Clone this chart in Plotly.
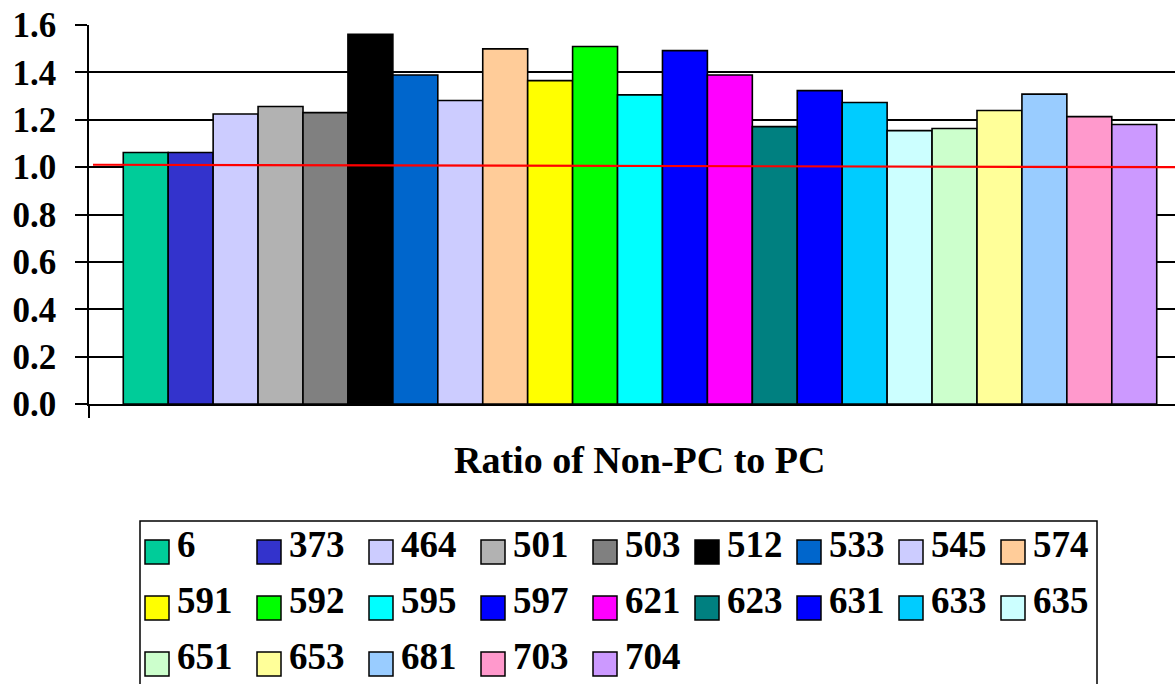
import plotly.graph_objects as go

# ---------------- data ----------------
categories = ["6", "373", "464", "501", "503", "512", "533", "545", "574",
              "591", "592", "595", "597", "621", "623", "631", "633", "635",
              "651", "653", "681", "703", "704"]
ratios = [1.062, 1.062, 1.224, 1.256, 1.230, 1.561, 1.389, 1.281, 1.499,
          1.365, 1.509, 1.305, 1.492, 1.389, 1.171, 1.323, 1.273, 1.154,
          1.163, 1.239, 1.308, 1.213, 1.180]
colors = ["#00CC99", "#3333CC", "#CCCCFF", "#B2B2B2", "#808080", "#000000",
          "#0066CC", "#CCCCFF", "#FFCC99", "#FFFF00", "#00FF00", "#00FFFF",
          "#0000FF", "#FF00FF", "#008080", "#0000FF", "#00CCFF", "#CCFFFF",
          "#CCFFCC", "#FFFF99", "#99CCFF", "#FF99CC", "#CC99FF"]
y_ticks = [0.0, 0.2, 0.4, 0.6, 0.8, 1.0, 1.2, 1.4, 1.6]
x_title = "Ratio of Non-PC to PC"
ref_line = [1.01, 1.00]   # red reference line (left, right)

# ---------------- layout geometry ----------------
W, H = 1175, 684
ML, MT, MB, MR = 89, 25, 280, 0
PW = W - ML - MR
PH = H - MT - MB
UNIT = 1102  # pixels per category width (plot extends beyond the window)


def px_x(px):
    return (px - ML) / PW


def px_y(py):
    return (H - MB - py) / PH


fig = go.Figure()
for name, v, c in zip(categories, ratios, colors):
    fig.add_trace(go.Bar(
        x=[0], y=[v], name=name, showlegend=False,
        marker=dict(color=c, line=dict(color="black", width=1.6)),
    ))

shapes = []
annotations = []

# red reference line
shapes.append(dict(type="line", xref="paper", yref="y",
                   x0=px_x(93), x1=1.0, y0=ref_line[0], y1=ref_line[1],
                   line=dict(color="#FF0000", width=2.2), layer="above"))

# legend box
shapes.append(dict(type="rect", xref="paper", yref="paper",
                   x0=px_x(140), x1=px_x(1097), y0=px_y(521), y1=px_y(700),
                   line=dict(color="black", width=1.5), fillcolor="rgba(0,0,0,0)"))

col_x = [145, 257, 369, 481, 593, 695, 797, 899, 1001]
row_y = [540, 596, 652]
SW = 24
for i, (name, c) in enumerate(zip(categories, colors)):
    r, k = divmod(i, 9)
    x0 = col_x[k]
    y0 = row_y[r]
    shapes.append(dict(type="rect", xref="paper", yref="paper",
                       x0=px_x(x0), x1=px_x(x0 + SW),
                       y0=px_y(y0 + SW), y1=px_y(y0),
                       line=dict(color="black", width=1.5), fillcolor=c))
    annotations.append(dict(xref="paper", yref="paper",
                            x=px_x(x0 + SW + 6), y=px_y(y0 + SW / 2 - 8),
                            xanchor="left", yanchor="middle", showarrow=False,
                            text="<b>" + name + "</b>",
                            font=dict(family="Liberation Serif", size=37, color="black")))

# axis title
annotations.append(dict(xref="paper", yref="paper",
                        x=px_x(640), y=px_y(460), xanchor="center", yanchor="middle",
                        showarrow=False, text="<b>" + x_title + "</b>",
                        font=dict(family="Liberation Serif", size=38, color="black")))

fig.update_layout(
    width=W, height=H,
    margin=dict(l=ML, r=MR, t=MT, b=MB),
    paper_bgcolor="white", plot_bgcolor="white",
    barmode="group", bargap=0.0622, bargroupgap=0,
    showlegend=False,
    shapes=shapes, annotations=annotations,
    xaxis=dict(range=[-0.5, -0.5 + PW / UNIT], showgrid=False, zeroline=False,
               showline=True, linecolor="black", linewidth=1.5,
               tickmode="array", tickvals=[-0.5, 0.5], ticktext=["", ""],
               ticks="outside", ticklen=12, tickcolor="black", tickwidth=1.5),
    yaxis=dict(range=[0, 1.6], tickmode="array", tickvals=y_ticks,
               ticktext=["<b>%.1f</b>" % t for t in y_ticks],
               showgrid=True, gridcolor="black", gridwidth=1.6,
               zeroline=False, showline=True, linecolor="black", linewidth=1.5,
               ticks="outside", ticklen=12, tickcolor="black", tickwidth=1.5,
               ticklabelstandoff=12,
               tickfont=dict(family="Liberation Serif", size=35, color="black")),
)

fig.write_html("out.html")
